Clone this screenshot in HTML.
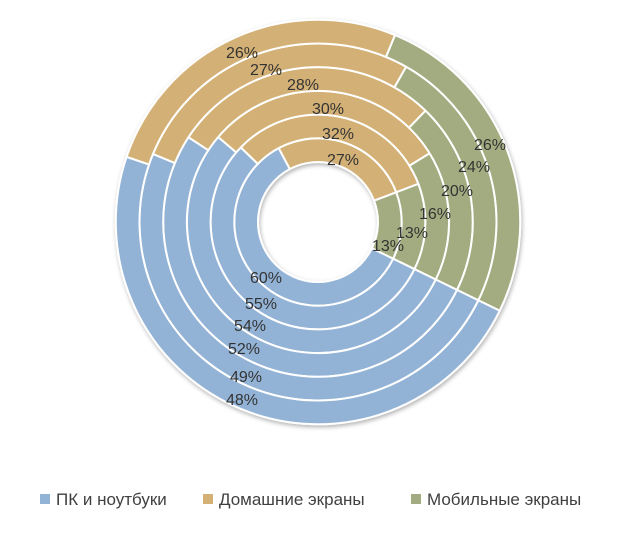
<!DOCTYPE html>
<html><head><meta charset="utf-8"><style>
body{margin:0;background:#fff;width:635px;height:531px;overflow:hidden;font-family:"Liberation Sans",sans-serif}
</style></head><body>
<svg id="s" width="635" height="531" xmlns="http://www.w3.org/2000/svg">
<defs><filter id="sh" x="-10%" y="-10%" width="120%" height="120%"><feDropShadow dx="1" dy="2" stdDeviation="2" flood-color="#000" flood-opacity="0.3"/></filter></defs>
<g id="rings" filter="url(#sh)"></g>
<g font-size="16" fill="#333" text-anchor="middle">
<text x="242" y="58">26%</text><text x="266" y="75">27%</text><text x="303" y="90">28%</text>
<text x="328" y="114">30%</text><text x="338" y="139">32%</text><text x="343" y="165">27%</text>
<text x="490" y="150">26%</text><text x="474" y="172">24%</text><text x="457" y="196">20%</text>
<text x="435" y="219">16%</text><text x="412" y="238">13%</text><text x="388" y="251">13%</text>
<text x="266" y="283">60%</text><text x="261" y="309">55%</text><text x="250" y="331">54%</text>
<text x="244" y="354">52%</text><text x="246" y="382">49%</text><text x="242" y="405">48%</text>
</g>
<g font-size="17" fill="#404040">
<rect x="40" y="494" width="10" height="10" fill="#93B3D6"/><text x="56" y="505">ПК и ноутбуки</text>
<rect x="203" y="494" width="10" height="10" fill="#D3B074"/><text x="219" y="505">Домашние экраны</text>
<rect x="411" y="494" width="10" height="10" fill="#A3AC80"/><text x="427" y="505">Мобильные экраны</text>
</g>
</svg>
<script>
var cx=318,cy=222,r0=60,w=23.7,start=116;
var data=[[60,27,13],[55,32,13],[54,30,16],[52,28,20],[49,27,24],[48,26,26]];
var cols=["#93B3D6","#D3B074","#A3AC80"];
function pt(r,a){a=a*Math.PI/180;return [cx+r*Math.sin(a),cy-r*Math.cos(a)];}
var g=document.getElementById("rings"),ns="http://www.w3.org/2000/svg";
data.forEach(function(d,i){
 var ri=r0+w*i,ro=ri+w,a=start;
 d.forEach(function(v,j){
  var b=a+v*3.6,lg=(b-a)>180?1:0;
  var p1=pt(ro,a),p2=pt(ro,b),p3=pt(ri,b),p4=pt(ri,a);
  var p=document.createElementNS(ns,"path");
  p.setAttribute("d","M"+p1+"A"+ro+","+ro+" 0 "+lg+" 1 "+p2+"L"+p3+"A"+ri+","+ri+" 0 "+lg+" 0 "+p4+"Z");
  p.setAttribute("fill",cols[j]);p.setAttribute("stroke","#fff");p.setAttribute("stroke-width","2");
  g.appendChild(p);
  a=b;
 });
});
</script>
</body></html>
